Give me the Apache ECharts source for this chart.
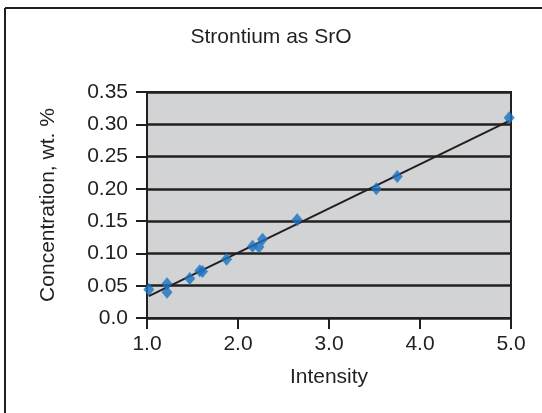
<!DOCTYPE html>
<html>
<head>
<meta charset="utf-8">
<script src="https://cdn.jsdelivr.net/npm/echarts@6/dist/echarts.min.js"></script>
<style>html,body{margin:0;padding:0;background:#fff;}#c{width:542px;height:413px;}</style>
</head>
<body>
<div id="c"></div>
<script>
const titleText = 'Strontium as SrO';
const xAxisName = 'Intensity';
const yAxisName = 'Concentration, wt. %';
const intensity = [1.02, 1.22, 1.22, 1.47, 1.58, 1.61, 1.875, 2.16, 2.23, 2.27, 2.65, 3.52, 3.75, 4.98];
const concentration = [0.044, 0.053, 0.040, 0.061, 0.073, 0.072, 0.091, 0.111, 0.110, 0.122, 0.152, 0.200, 0.219, 0.310];
const xTicks = [1.0, 2.0, 3.0, 4.0, 5.0];
const yTicks = [0.0, 0.05, 0.10, 0.15, 0.20, 0.25, 0.30, 0.35];

// linear least-squares trendline from the data
const n = intensity.length;
const mx = intensity.reduce((a, b) => a + b, 0) / n;
const my = concentration.reduce((a, b) => a + b, 0) / n;
let sxy = 0, sxx = 0;
for (let i = 0; i < n; i++) { sxy += (intensity[i] - mx) * (concentration[i] - my); sxx += (intensity[i] - mx) ** 2; }
const slope = sxy / sxx, icpt = my - slope * mx;
const xMin = Math.min(...intensity), xMax = Math.max(...intensity);
const trend = [[xMin, icpt + slope * xMin], [xMax, icpt + slope * xMax]];

const FONT = '"Liberation Sans", Arial, sans-serif';
const ink = '#231f20';
const chart = echarts.init(document.getElementById('c'), null, { renderer: 'canvas' });
chart.setOption({
  animation: false,
  backgroundColor: '#ffffff',
  title: {
    text: titleText, left: 'center', top: 22,
    textStyle: { fontFamily: FONT, fontSize: 21, fontWeight: 'normal', color: ink }
  },
  graphic: [
    { type: 'line', shape: { x1: 5, y1: 8, x2: 542, y2: 8 }, style: { stroke: ink, lineWidth: 2 } },
    { type: 'line', shape: { x1: 5, y1: 8, x2: 5, y2: 413 }, style: { stroke: ink, lineWidth: 2 } }
  ],
  grid: {
    left: 147, right: 31, top: 92, bottom: 95,
    show: true, backgroundColor: '#d1d3d4', borderColor: ink, borderWidth: 2
  },
  xAxis: {
    type: 'value', min: 1, max: 5, interval: 1,
    name: xAxisName, nameLocation: 'middle', nameGap: 49,
    nameTextStyle: { fontFamily: FONT, fontSize: 21, color: ink },
    axisLine: { show: true, lineStyle: { color: ink, width: 2 } },
    axisTick: { show: true, inside: false, length: 11, lineStyle: { color: ink, width: 2 } },
    axisLabel: { fontFamily: FONT, fontSize: 21, color: ink, margin: 16, formatter: v => v.toFixed(1) },
    splitLine: { show: false }
  },
  yAxis: {
    type: 'value', min: 0, max: 0.35, interval: 0.05,
    name: yAxisName, nameLocation: 'middle', nameGap: 88, nameRotate: 90,
    nameTextStyle: { fontFamily: FONT, fontSize: 21, color: ink },
    axisLine: { show: true, lineStyle: { color: ink, width: 2 } },
    axisTick: { show: true, inside: false, length: 11, lineStyle: { color: ink, width: 2 } },
    axisLabel: { fontFamily: FONT, fontSize: 21, color: ink, margin: 19,
      formatter: v => (Math.abs(v) < 1e-9 ? '0.0' : v.toFixed(2)) },
    splitLine: { show: true, lineStyle: { color: ink, width: 2.5 } }
  },
  series: [
    {
      type: 'line', data: trend, showSymbol: false, symbol: 'none',
      lineStyle: { color: ink, width: 2 }, z: 2, silent: true
    },
    {
      type: 'scatter', data: intensity.map((x, i) => [x, concentration[i]]),
      symbol: 'diamond', symbolSize: [11, 13],
      itemStyle: { color: '#1a72c0' }, z: 3
    }
  ]
});
</script>
</body>
</html>
